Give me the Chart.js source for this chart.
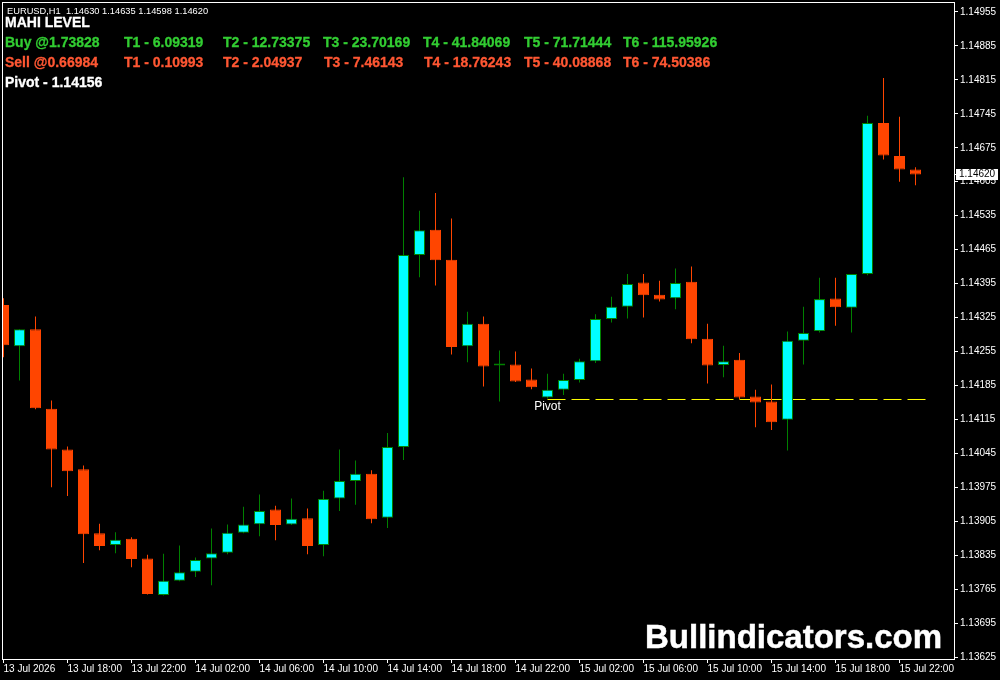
<!DOCTYPE html>
<html>
<head>
    <title>EURUSD H1 - MAHI LEVEL</title>
    <script src="https://cdn.jsdelivr.net/npm/chart.js"></script>
    <style>
        body { margin: 0; background: #000; }
        #wrap { position: relative; width: 1000px; height: 680px; overflow: hidden; }
        .t { position: absolute; white-space: pre; font-family: "Liberation Sans", Arial, sans-serif; }
        .hd { font-size: 14px; font-weight: bold; line-height: 16px; -webkit-text-stroke: 0.3px currentColor; }
        .buy { color: #32CD32; }
        .sell { color: #FF5733; }
        .wh { color: #fff; }
    </style>
</head>
<body>
    <div id="wrap">
        <canvas id="myChart" width="1000" height="680"></canvas>
        <div class="t wh" style="left:7px; top:5px; font-size:9.3px; line-height:12px;">EURUSD,H1  1.14630 1.14635 1.14598 1.14620</div>
        <div class="t hd wh" style="left:5px; top:14px;">MAHI LEVEL</div>
        <div class="t hd buy" style="left:5px; top:34px;">Buy @1.73828</div>
        <div class="t hd buy" style="left:124px; top:34px;">T1 - 6.09319</div>
        <div class="t hd buy" style="left:223px; top:34px;">T2 - 12.73375</div>
        <div class="t hd buy" style="left:323px; top:34px;">T3 - 23.70169</div>
        <div class="t hd buy" style="left:423px; top:34px;">T4 - 41.84069</div>
        <div class="t hd buy" style="left:524px; top:34px;">T5 - 71.71444</div>
        <div class="t hd buy" style="left:623px; top:34px;">T6 - 115.95926</div>
        <div class="t hd sell" style="left:5px; top:54px;">Sell @0.66984</div>
        <div class="t hd sell" style="left:124px; top:54px;">T1 - 0.10993</div>
        <div class="t hd sell" style="left:223px; top:54px;">T2 - 2.04937</div>
        <div class="t hd sell" style="left:324px; top:54px;">T3 - 7.46143</div>
        <div class="t hd sell" style="left:424px; top:54px;">T4 - 18.76243</div>
        <div class="t hd sell" style="left:524px; top:54px;">T5 - 40.08868</div>
        <div class="t hd sell" style="left:623px; top:54px;">T6 - 74.50386</div>
        <div class="t hd wh" style="left:5px; top:74px;">Pivot - 1.14156</div>
        <div class="t wh" style="left:645px; top:620px; font-size:33px; font-weight:bold; line-height:33px; -webkit-text-stroke:0.5px #fff;">Bullindicators.com</div>
    </div>
    <script>
        // hourly bars, 13 Jul 14:00 -> 15 Jul 23:00
        const opens = [
            1.14351, 1.14266, 1.14301, 1.14137, 1.14053, 1.14012, 1.13880, 1.13856, 1.13869, 1.13828,
            1.13753, 1.13782, 1.13801, 1.13828, 1.13840, 1.13881, 1.13899, 1.13929, 1.13898, 1.13911,
            1.13856, 1.13952, 1.13988, 1.14003, 1.13912, 1.14058, 1.14454, 1.14506, 1.14444, 1.14266,
            1.14312, 1.14226, 1.14228, 1.14197, 1.14160, 1.14176, 1.14196, 1.14235, 1.14322, 1.14347,
            1.14397, 1.14372, 1.14365, 1.14399, 1.14281, 1.14227, 1.14238, 1.14162, 1.14152, 1.14114,
            1.14277, 1.14297, 1.14364, 1.14345, 1.14415, 1.14726, 1.14658, 1.14630
        ];
        const highs = [
            1.14365, 1.14301, 1.14327, 1.14154, 1.14059, 1.14020, 1.13900, 1.13882, 1.13872, 1.13836,
            1.13838, 1.13855, 1.13830, 1.13890, 1.13898, 1.13935, 1.13960, 1.13937, 1.13952, 1.13931,
            1.13968, 1.14053, 1.14030, 1.14010, 1.14087, 1.14614, 1.14545, 1.14582, 1.14529, 1.14337,
            1.14327, 1.14257, 1.14255, 1.14220, 1.14209, 1.14209, 1.14240, 1.14332, 1.14368, 1.14415,
            1.14415, 1.14401, 1.14426, 1.14430, 1.14312, 1.14267, 1.14252, 1.14176, 1.14187, 1.14296,
            1.14347, 1.14407, 1.14407, 1.14415, 1.14741, 1.14819, 1.14739, 1.14635
        ];
        const lows = [
            1.14243, 1.14195, 1.14136, 1.13975, 1.13957, 1.13819, 1.13845, 1.13839, 1.13810, 1.13754,
            1.13752, 1.13781, 1.13790, 1.13773, 1.13837, 1.13880, 1.13874, 1.13866, 1.13897, 1.13837,
            1.13833, 1.13926, 1.13939, 1.13901, 1.13891, 1.14031, 1.14408, 1.14391, 1.14249, 1.14233,
            1.14183, 1.14152, 1.14192, 1.14177, 1.14158, 1.14165, 1.14191, 1.14231, 1.14315, 1.14323,
            1.14325, 1.14358, 1.14342, 1.14272, 1.14189, 1.14202, 1.14157, 1.14099, 1.14093, 1.14051,
            1.14228, 1.14294, 1.14308, 1.14294, 1.14412, 1.14651, 1.14605, 1.14598
        ];
        const closes = [
            1.14268, 1.14301, 1.14138, 1.14053, 1.14008, 1.13878, 1.13854, 1.13867, 1.13827, 1.13755,
            1.13782, 1.13800, 1.13825, 1.13839, 1.13881, 1.13898, 1.13926, 1.13897, 1.13910, 1.13854,
            1.13951, 1.13988, 1.14003, 1.13909, 1.14058, 1.14454, 1.14505, 1.14443, 1.14264, 1.14312,
            1.14224, 1.14226, 1.14193, 1.14181, 1.14176, 1.14196, 1.14235, 1.14322, 1.14347, 1.14394,
            1.14371, 1.14362, 1.14396, 1.14280, 1.14226, 1.14235, 1.14160, 1.14150, 1.14109, 1.14277,
            1.14293, 1.14363, 1.14346, 1.14415, 1.14726, 1.14659, 1.14630, 1.14620
        ];

        const xTickIdx = [0, 4, 8, 12, 16, 20, 24, 28, 32, 36, 40, 44, 48, 52, 56];
        const xTickLabels = [
            '13 Jul 2026', '13 Jul 18:00', '13 Jul 22:00', '14 Jul 02:00', '14 Jul 06:00',
            '14 Jul 10:00', '14 Jul 14:00', '14 Jul 18:00', '14 Jul 22:00', '15 Jul 02:00',
            '15 Jul 06:00', '15 Jul 10:00', '15 Jul 14:00', '15 Jul 18:00', '15 Jul 22:00'
        ];
        const yTickLabels = [
            '1.13625', '1.13695', '1.13765', '1.13835', '1.13905', '1.13975', '1.14045',
            '1.14115', '1.14185', '1.14255', '1.14325', '1.14395', '1.14465', '1.14535',
            '1.14605', '1.14675', '1.14745', '1.14815', '1.14885', '1.14955'
        ];

        const pivot = 1.14156;
        const pivotFrom = 34;     // bar index where the pivot line starts
        const pivotTo = 57.75;

        const BULL = '#00FFFF', BULL_EDGE = '#008000', BEAR = '#FF4500';
        const isBull = i => closes[i] >= opens[i];
        const axisFont = { family: 'Liberation Sans', size: 10 };

        const bodyData = opens.map((o, i) => ({ x: i, y: [o, closes[i]] }));
        const wickData = lows.map((l, i) => ({ x: i, y: [l, highs[i]] }));

        const noPad = s => { s.paddingTop = 0; s.paddingBottom = 0; s.paddingLeft = 0; s.paddingRight = 0; };

        const overlay = {
            id: 'overlay',
            afterDatasetsDraw(chart) {
                const { ctx, chartArea: a, scales: { x, y } } = chart;
                ctx.save();
                // pivot label
                ctx.fillStyle = '#fff';
                ctx.font = '12px "Liberation Sans"';
                ctx.textAlign = 'center';
                ctx.textBaseline = 'middle';
                ctx.fillText('Pivot', x.getPixelForValue(pivotFrom), y.getPixelForValue(pivot) + 7);
                // frame
                ctx.strokeStyle = '#fff';
                ctx.lineWidth = 1;
                ctx.strokeRect(a.left + 0.5, a.top + 0.5, a.right - a.left, a.bottom - a.top);
                ctx.restore();
            },
            afterDraw(chart) {
                const { ctx, chartArea: a, scales: { y } } = chart;
                const last = closes[closes.length - 1];
                const py = Math.round(y.getPixelForValue(last));
                ctx.save();
                ctx.fillStyle = '#fff';
                ctx.fillRect(a.right, py, 5, 1);
                ctx.fillRect(a.right + 2, py - 5, 42, 11);
                ctx.fillStyle = '#000';
                ctx.font = '10px "Liberation Sans"';
                ctx.textAlign = 'left';
                ctx.textBaseline = 'middle';
                ctx.fillText(last.toFixed(5), a.right + 5, py + 0.5);
                ctx.restore();
            }
        };

        const ctx = document.getElementById('myChart').getContext('2d');
        const myChart = new Chart(ctx, {
            type: 'bar',
            data: {
                datasets: [
                    {
                        label: 'body',
                        data: bodyData,
                        order: 0,
                        grouped: false,
                        barThickness: 11,
                        minBarLength: 2,
                        inflateAmount: 0,
                        borderSkipped: false,
                        backgroundColor: c => (c.type === 'data' && !isBull(c.dataIndex)) ? BEAR : BULL,
                        borderColor: c => (c.type === 'data' && !isBull(c.dataIndex)) ? BEAR : BULL_EDGE,
                        borderWidth: 1,
                    },
                    {
                        label: 'wick',
                        data: wickData,
                        order: 1,
                        grouped: false,
                        barThickness: 1,
                        inflateAmount: 0,
                        borderWidth: 0,
                        backgroundColor: c => (c.type === 'data' && !isBull(c.dataIndex)) ? BEAR : BULL_EDGE,
                    },
                    {
                        type: 'line',
                        label: 'pivot',
                        data: [{ x: pivotFrom, y: pivot }, { x: pivotTo, y: pivot }],
                        order: 2,
                        borderColor: '#FFFF00',
                        borderWidth: 1,
                        borderDash: [18, 6],
                        pointRadius: 0,
                        fill: false,
                    },
                ],
            },
            options: {
                responsive: false,
                animation: false,
                devicePixelRatio: 1,
                layout: { padding: { left: 2, top: 2, right: 0, bottom: 0 } },
                plugins: { legend: { display: false }, tooltip: { enabled: false } },
                scales: {
                    x: {
                        type: 'linear',
                        min: -0.09375,
                        max: 59.40625,
                        offset: false,
                        afterBuildTicks: s => { s.ticks = xTickIdx.map(v => ({ value: v })); },
                        afterFit: s => { s.height = 21; noPad(s); },
                        grid: { offset: false, drawOnChartArea: false, drawTicks: true, tickLength: 4, color: '#fff' },
                        border: { display: false },
                        ticks: {
                            color: '#fff',
                            font: axisFont,
                            align: 'start',
                            padding: 0,
                            autoSkip: false,
                            maxRotation: 0,
                            minRotation: 0,
                            callback: (v, i) => xTickLabels[i],
                        },
                    },
                    y: {
                        position: 'right',
                        min: 1.136209,
                        max: 1.149756,
                        afterBuildTicks: s => { s.ticks = yTickLabels.map(t => ({ value: Number(t) })); },
                        afterFit: s => { s.width = 46; noPad(s); },
                        grid: { drawOnChartArea: false, drawTicks: true, tickLength: 4, color: '#fff' },
                        border: { display: false },
                        ticks: {
                            color: '#fff',
                            font: axisFont,
                            padding: 2,
                            callback: (v, i) => yTickLabels[i],
                        },
                    },
                },
            },
            plugins: [overlay],
        });
    </script>
</body>
</html>
